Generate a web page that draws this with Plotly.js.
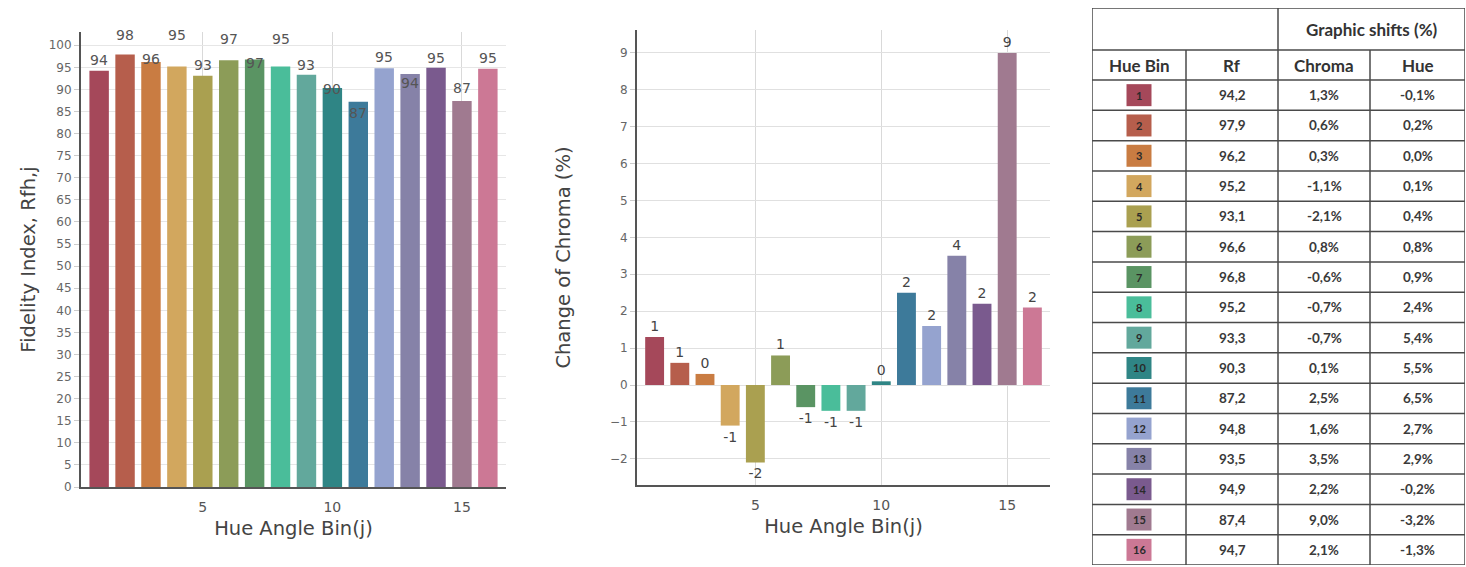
<!DOCTYPE html>
<html>
<head>
<meta charset="utf-8">
<script src="https://cdn.plot.ly/plotly-3.0.1.min.js"></script>
<style>html,body{margin:0;padding:0;background:#fff;}#chart{width:1466px;height:567px;}</style>
</head>
<body>
<div id="chart"></div>
<script>
// ---------- data ----------
const bins = [1, 2, 3, 4, 5, 6, 7, 8, 9, 10, 11, 12, 13, 14, 15, 16];
const rf = [94.2, 97.9, 96.2, 95.2, 93.1, 96.6, 96.8, 95.2, 93.3, 90.3, 87.2, 94.8, 93.5, 94.9, 87.4, 94.7];
const chroma = [1.3, 0.6, 0.3, -1.1, -2.1, 0.8, -0.6, -0.7, -0.7, 0.1, 2.5, 1.6, 3.5, 2.2, 9.0, 2.1];
const hue = [-0.1, 0.2, 0.0, 0.1, 0.4, 0.8, 0.9, 2.4, 5.4, 5.5, 6.5, 2.7, 2.9, -0.2, -3.2, -1.3];
const rfLabels = ['94', '98', '96', '95', '93', '97', '97', '95', '93', '90', '87', '95', '94', '95', '87', '95'];
const chromaLabels = ['1', '1', '0', '-1', '-2', '1', '-1', '-1', '-1', '0', '2', '2', '4', '2', '9', '2'];
const xTicks = [5, 10, 15];
const tableHeaders = ['Hue Bin', 'Rf', 'Chroma', 'Hue'];
const groupHeader = 'Graphic shifts (%)';

// ---------- style ----------
const binColors = ['#a5485a', '#b65e4c', '#c97c42', '#d2a75e', '#aaa050', '#8c9c58', '#5a9463', '#4abd9a',
                   '#62a89c', '#2f8585', '#3d7a9a', '#95a3cf', '#8682a8', '#7a5a8e', '#a07a90', '#cc7895'];
const rfLabelShift = [1, 10, -7, 21, 1, 11, -14, 17, 0, -11, -21, 1, -19, 0, 3, 1];

const W = 1466, H = 567;
const px = v => v / W, py = v => 1 - v / H;
const FONT = '"DejaVu Sans", Verdana, sans-serif';
const TFONT = 'Lato, "Open Sans", sans-serif';
const fmt = v => v.toFixed(1).replace('.', ',');

const traces = [
  {
    type: 'bar', x: bins, y: rf, xaxis: 'x', yaxis: 'y',
    marker: {color: binColors, line: {width: 0}},
    hoverinfo: 'x+y', showlegend: false
  },
  {
    type: 'bar', x: bins, y: chroma, xaxis: 'x2', yaxis: 'y2',
    marker: {color: binColors, line: {width: 0}},
    text: chromaLabels, textposition: 'outside', constraintext: 'none', cliponaxis: false,
    textfont: {family: FONT, size: 14, color: '#444'},
    hoverinfo: 'x+y', showlegend: false
  }
];

const annotations = [];
rf.forEach((v, i) => {
  annotations.push({
    xref: 'x', yref: 'y', x: bins[i], y: v, text: rfLabels[i], showarrow: false,
    yanchor: 'bottom', yshift: rfLabelShift[i],
    font: {family: FONT, size: 14, color: '#555'}
  });
});

// ---------- table (drawn on hidden axes x3/y3 in pixel units) ----------
const TW = 373, TH = 557;
const colX = [0, 94, 186, 278, TW];
const rowY0 = 42, rowY1 = 72;
const rowH = (TH - rowY1) / bins.length;
const lineStyle = {color: '#4a4a4a', width: 1.5};
const shapes = [];
const addLine = (x0, y0, x1, y1) => shapes.push({type: 'line', xref: 'x3', yref: 'y3', x0, y0, x1, y1, line: lineStyle, layer: 'above'});
shapes.push({type: 'rect', xref: 'x3', yref: 'y3', x0: 0, y0: 0, x1: TW, y1: TH, line: lineStyle, fillcolor: 'rgba(0,0,0,0)'});
addLine(0, rowY0, TW, rowY0);
addLine(0, rowY1, TW, rowY1);
for (let r = 1; r < bins.length; r++) addLine(0, rowY1 + r * rowH, TW, rowY1 + r * rowH);
addLine(colX[1], rowY0, colX[1], TH);
addLine(colX[2], 0, colX[2], TH);
addLine(colX[3], rowY0, colX[3], TH);

const tFont = {family: TFONT, size: 17, color: '#333'};
const tBody = {family: TFONT, size: 13.5, color: '#3a3a3a'};
const tAnn = (x, y, text, font) => annotations.push({xref: 'x3', yref: 'y3', x, y, text, showarrow: false, font, xanchor: 'center', yanchor: 'middle'});
tAnn((colX[2] + colX[4]) / 2, rowY0 / 2, '<b>' + groupHeader + '</b>', tFont);
tableHeaders.forEach((h, c) => tAnn((colX[c] + colX[c + 1]) / 2, (rowY0 + rowY1) / 2, '<b>' + h + '</b>', tFont));
bins.forEach((b, r) => {
  const yc = rowY1 + (r + 0.5) * rowH;
  const xc = (colX[0] + colX[1]) / 2;
  shapes.push({type: 'rect', xref: 'x3', yref: 'y3', x0: xc - 12.5, x1: xc + 12.5, y0: yc - 11, y1: yc + 11,
               fillcolor: binColors[r], line: {width: 0}});
  tAnn(xc, yc, '<b>' + b + '</b>', {family: TFONT, size: 11, color: '#2a2a2a'});
  tAnn((colX[1] + colX[2]) / 2, yc, '<b>' + fmt(rf[r]) + '</b>', tBody);
  tAnn((colX[2] + colX[3]) / 2, yc, '<b>' + fmt(chroma[r]) + '%</b>', tBody);
  tAnn((colX[3] + colX[4]) / 2, yc, '<b>' + fmt(hue[r]) + '%</b>', tBody);
});

const titleFont = {family: FONT, size: 19.5, color: '#444'};
const commonX = {
  tickvals: xTicks, range: [0.3, 16.7], showgrid: true, gridcolor: '#d9d9d9', gridwidth: 1,
  showline: true, linecolor: '#555', linewidth: 2, ticks: 'outside', ticklen: 6, tickcolor: 'rgba(0,0,0,0)', zeroline: false,
  tickfont: {family: FONT, size: 14, color: '#555'},
  title: {text: 'Hue Angle Bin(j)', font: titleFont, standoff: 8}
};

const layout = {
  width: W, height: H, margin: {l: 0, r: 0, t: 0, b: 0},
  paper_bgcolor: '#fff', plot_bgcolor: '#fff',
  bargap: 0.25, showlegend: false, font: {family: FONT},
  xaxis: Object.assign({}, commonX, {domain: [px(81), px(506)], anchor: 'y'}),
  yaxis: {
    domain: [py(487), py(32)], anchor: 'x', range: [0, 103], dtick: 5, tick0: 0,
    showgrid: true, gridcolor: '#e6e6e6', showline: true, linecolor: '#555', linewidth: 2,
    ticks: 'outside', ticklen: 5, tickcolor: '#ccc', zeroline: false,
    tickfont: {family: FONT, size: 12, color: '#666'},
    title: {text: 'Fidelity Index, Rfh,j', font: titleFont, standoff: 8}
  },
  xaxis2: Object.assign({}, commonX, {domain: [px(637), px(1050)], anchor: 'y2'}),
  yaxis2: {
    domain: [py(485), py(30)], anchor: 'x2', range: [-2.71, 9.62], dtick: 1, tick0: 0,
    showgrid: true, gridcolor: '#e0e0e0', showline: true, linecolor: '#555', linewidth: 2,
    ticks: 'outside', ticklen: 5, tickcolor: '#ccc', zeroline: true, zerolinecolor: '#e0e0e0', zerolinewidth: 1,
    tickfont: {family: FONT, size: 12, color: '#666'},
    title: {text: 'Change of Chroma (%)', font: titleFont, standoff: 34}
  },
  xaxis3: {domain: [px(1092), px(1465)], anchor: 'y3', range: [0, TW], visible: false, fixedrange: true},
  yaxis3: {domain: [py(565), py(8)], anchor: 'x3', range: [TH, 0], visible: false, fixedrange: true},
  shapes, annotations
};

Plotly.newPlot('chart', traces, layout, {displayModeBar: false, staticPlot: true});
</script>
</body>
</html>
